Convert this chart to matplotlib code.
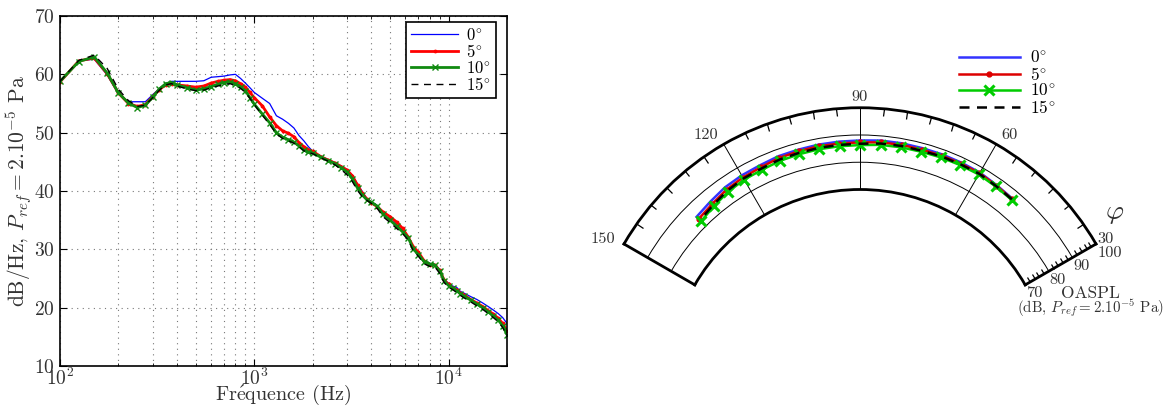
import numpy as np
import matplotlib
matplotlib.use("Agg")
import matplotlib.pyplot as plt

plt.rcParams["font.family"] = ["cmr10", "DejaVu Serif"]
plt.rcParams["mathtext.fontset"] = "cm"
plt.rcParams["axes.formatter.use_mathtext"] = True
plt.rcParams["axes.unicode_minus"] = False

# -----------------------------------------------------------------------------
# Spectrum data
# -----------------------------------------------------------------------------
freq = [100, 125, 150, 175, 200, 225, 250, 275, 300, 325, 350, 375, 400, 450,
        500, 550, 600, 650, 700, 750, 800, 850, 900, 950, 1000, 1100, 1200,
        1300, 1400, 1500, 1600, 1700, 1800, 1900, 2000, 2200, 2400, 2600, 2800,
        3000, 3200, 3400, 3600, 3800, 4000, 4300, 4600, 5000, 5400, 5800, 6200,
        6600, 7000, 7500, 8000, 8500, 9000, 9500, 10000, 10500, 11000, 11500,
        12000, 13000, 14000, 15000, 16000, 17000, 18000, 19000, 20000]

psd_0 = [58.7, 62.3, 62.6, 59.9, 56.6, 55.3, 55.3, 55.3, 56.5, 57.6, 58.4, 58.8,
         58.8, 58.8, 58.8, 58.9, 59.5, 59.6, 59.7, 59.9, 60.0, 59.3, 58.5, 57.7,
         56.9, 55.9, 55.0, 52.9, 52.3, 51.6, 50.8, 49.5, 48.6, 47.6, 46.8, 46.0,
         45.4, 44.9, 44.3, 43.7, 42.7, 41.2, 39.9, 38.7, 38.2, 37.5, 36.4, 35.6,
         34.3, 33.0, 31.9, 30.2, 29.4, 28.1, 27.6, 27.4, 26.6, 24.8, 24.2, 23.7,
         23.5, 22.8, 22.5, 21.9, 21.4, 20.8, 20.2, 19.6, 19.0, 18.3, 17.3]

psd_5 = [58.7, 62.3, 62.8, 60.1, 56.8, 55.0, 54.5, 54.8, 56.2, 57.4, 58.2, 58.4,
         58.2, 58.0, 57.8, 58.0, 58.5, 58.8, 59.0, 59.1, 58.9, 58.4, 57.8, 56.9,
         56.0, 54.6, 52.7, 51.2, 50.3, 49.9, 49.3, 48.3, 47.6, 47.1, 46.8, 45.9,
         45.3, 44.8, 44.2, 43.6, 42.6, 41.0, 39.6, 38.6, 38.0, 37.3, 36.4, 35.6,
         34.7, 33.6, 32.1, 30.4, 29.5, 28.0, 27.4, 27.3, 26.4, 24.7, 24.0, 23.4,
         23.1, 22.5, 22.2, 21.4, 20.8, 20.2, 19.5, 18.9, 18.2, 17.3, 16.0]

psd_10 = [58.8, 62.2, 63.0, 60.2, 56.8, 55.1, 54.3, 54.7, 56.1, 57.5, 58.4, 58.6,
          58.2, 57.7, 57.3, 57.5, 57.9, 58.3, 58.6, 58.7, 58.4, 57.9, 57.2, 56.0,
          54.9, 53.2, 51.7, 50.0, 49.2, 48.8, 48.4, 47.7, 47.0, 46.7, 46.5, 45.8,
          45.2, 44.7, 44.0, 43.3, 42.1, 40.5, 39.3, 38.5, 38.1, 37.4, 36.0, 35.0,
          34.0, 33.0, 32.0, 30.0, 29.1, 27.9, 27.5, 27.3, 26.3, 24.6, 23.8, 23.4,
          22.9, 22.4, 22.0, 21.3, 20.6, 20.0, 19.3, 18.6, 17.9, 16.9, 15.4]

psd_15 = [58.8, 62.4, 63.3, 61.0, 57.4, 55.5, 54.5, 54.7, 56.0, 57.3, 58.2, 58.4,
          58.0, 57.5, 57.2, 57.3, 57.7, 58.0, 58.3, 58.4, 58.1, 57.6, 56.9, 55.9,
          54.8, 53.0, 51.4, 49.8, 49.0, 48.6, 48.2, 47.6, 46.9, 46.6, 46.4, 45.7,
          45.1, 44.5, 43.7, 42.8, 41.6, 40.1, 39.0, 38.4, 37.9, 37.0, 35.6, 34.6,
          33.6, 32.7, 31.6, 29.7, 28.8, 27.5, 27.1, 27.0, 25.9, 24.3, 23.5, 23.1,
          22.6, 22.1, 21.7, 21.0, 20.3, 19.7, 19.0, 18.3, 17.6, 16.6, 15.2]

# -----------------------------------------------------------------------------
# Directivity data (OASPL vs polar angle)
# -----------------------------------------------------------------------------
phi_deg = [50, 55, 60, 65, 70, 75, 80, 85, 90, 95, 100, 105, 110, 115, 120,
           125, 130, 135]

oaspl_0 = [87.0, 87.4, 88.0, 88.1, 88.2, 88.2, 88.3, 88.3, 88.0, 87.9, 87.8,
           87.6, 87.5, 87.0, 86.8, 86.4, 85.5, 84.8]
oaspl_5 = [86.8, 87.2, 87.7, 87.7, 87.7, 87.6, 87.7, 87.6, 87.3, 87.2, 87.2,
           87.0, 86.8, 86.2, 85.9, 85.4, 84.4, 83.7]
oaspl_10 = [86.5, 86.8, 87.2, 87.1, 87.0, 86.8, 86.8, 86.7, 86.3, 86.2, 86.1,
            85.9, 85.7, 85.2, 85.0, 84.4, 83.4, 82.5]
oaspl_15 = [86.7, 87.0, 87.5, 87.4, 87.4, 87.2, 87.3, 87.2, 86.8, 86.7, 86.6,
            86.4, 86.2, 85.7, 85.5, 84.9, 83.9, 83.0]

labels = [r"$0^{\circ}$", r"$5^{\circ}$", r"$10^{\circ}$", r"$15^{\circ}$"]

W, H = 1172, 408
fig = plt.figure(figsize=(W / 100, H / 100), dpi=100)

# -----------------------------------------------------------------------------
# Left: spectra
# -----------------------------------------------------------------------------
ax = fig.add_axes([60 / W, 1 - 366 / H, 447 / W, 350 / H])

ax.plot(freq, psd_0, color="#0000ff", lw=0.9, label=labels[0])
ax.plot(freq, psd_5, color="#ff0000", lw=2.0, marker=".", ms=3.5,
        label=labels[1])
ax.plot(freq, psd_10, color="#108a10", lw=2.0, marker="x", ms=5, mew=1.0,
        label=labels[2])
ax.plot(freq, psd_15, color="k", lw=1.0, ls=(0, (5, 4)), label=labels[3])

ax.set_xscale("log")
ax.set_xlim(100, 20000)
ax.set_ylim(10, 70)
ax.set_yticks(range(10, 71, 10))
ax.grid(True, which="both", axis="x", color="#777777", ls=(0, (1, 4)), lw=0.8)
ax.grid(True, which="major", axis="y", color="#777777", ls=(0, (1, 4)), lw=0.8)
ax.tick_params(which="both", direction="in", top=True, right=True,
               labelsize=14, colors="k", labelcolor="#333333")
ax.tick_params(which="major", length=5)
ax.tick_params(which="minor", length=2.5)
ax.tick_params(axis="x", pad=1)
for sp in ax.spines.values():
    sp.set_linewidth(1.2)

ax.set_xlabel("Fr$\\mathrm{\\acute{e}}$quence (Hz)", fontsize=14.5,
              color="#333333", labelpad=-4)
ax.set_ylabel(r"dB/Hz, $P_{ref}=2.10^{-5}$ Pa", fontsize=15.5,
              color="#333333", labelpad=0)

leg = ax.legend(loc="upper right", bbox_to_anchor=(436 / 447, 344 / 350),
                borderaxespad=0, fontsize=12, handlelength=2.8,
                labelspacing=0.0, handletextpad=0.5, borderpad=0.3,
                fancybox=False, framealpha=1)
leg.get_frame().set_edgecolor("k")
leg.get_frame().set_linewidth(1.2)

# -----------------------------------------------------------------------------
# Right: directivity (polar wedge)
# The wedge is centred in a square box, so the axes is a 472 px square
# whose middle sits on the middle of the wedge.
# -----------------------------------------------------------------------------
side = 472
cy = (108.3 + 284.3) / 2
pax = fig.add_axes([624 / W, 1 - (cy + side / 2) / H, side / W, side / H],
                   projection="polar")
pax.set_thetamin(30)
pax.set_thetamax(150)
pax.set_rlim(70, 100)
pax.set_rorigin(0)

th = np.deg2rad(phi_deg)
pax.plot(th, oaspl_0, color="#3333ff", lw=1.8, label=labels[0])
pax.plot(th, oaspl_5, color="#dd0000", lw=1.8, marker=".", ms=7,
         label=labels[1])
pax.plot(th, oaspl_10, color="#00cc00", lw=1.8, marker="x", ms=7, mew=2.2,
         label=labels[2])
pax.plot(th, oaspl_15, color="k", lw=1.8, ls=(0, (4, 3)), label=labels[3])

pax.set_xticks(np.deg2rad([30, 60, 90, 120, 150]))
pax.set_xticklabels(["30", "60", "90", "120", "150"])
pax.set_xticks(np.deg2rad(np.arange(30, 151, 5)), minor=True)
pax.set_yticks([70, 80, 90, 100])
pax.set_yticklabels(["70", "80", "90", "100"])
pax.set_yticks(np.arange(70, 101, 2), minor=True)
pax.set_rlabel_position(30)
pax.grid(True, which="major", color="k", lw=0.7, ls="-")
pax.tick_params(axis="both", which="both", direction="in", labelsize=11.8,
                labelcolor="#333333")
pax.tick_params(axis="x", which="major", length=0, pad=0.5)
pax.tick_params(axis="x", which="minor", length=5, width=0.9, top=True)
pax.tick_params(axis="y", which="minor", length=4, width=0.9, left=True)
pax.tick_params(axis="y", which="major", length=0, pad=1.5)
for key in ["polar", "inner", "start", "end"]:
    pax.spines[key].set_linewidth(2)
# side labels sit a little outward of their gridlines
for lab in pax.get_xticklabels():
    if lab.get_text() in ("120", "150"):
        lab.set_horizontalalignment("right")
    elif lab.get_text() == "60":
        lab.set_horizontalalignment("left")

fig.text(1115 / W, 1 - 213 / H, r"$\varphi$", fontsize=20,
         ha="center", va="center", color="#333333")
fig.text(1090 / W, 1 - 293 / H, "OASPL", fontsize=12.5,
         ha="center", va="center", color="#333333")
fig.text(1090 / W, 1 - 308 / H, r"(dB, $P_{ref}=2.10^{-5}$ Pa)",
         fontsize=10.8, ha="center", va="center", color="#333333")

pax.legend(loc="upper left", bbox_to_anchor=(959 / W, 1 - 50 / H),
           bbox_transform=fig.transFigure, frameon=False, fontsize=12.5,
           handlelength=3.5, handletextpad=0.6, labelspacing=0.0,
           borderpad=0, borderaxespad=0)

fig.savefig("out.png", dpi=100)
